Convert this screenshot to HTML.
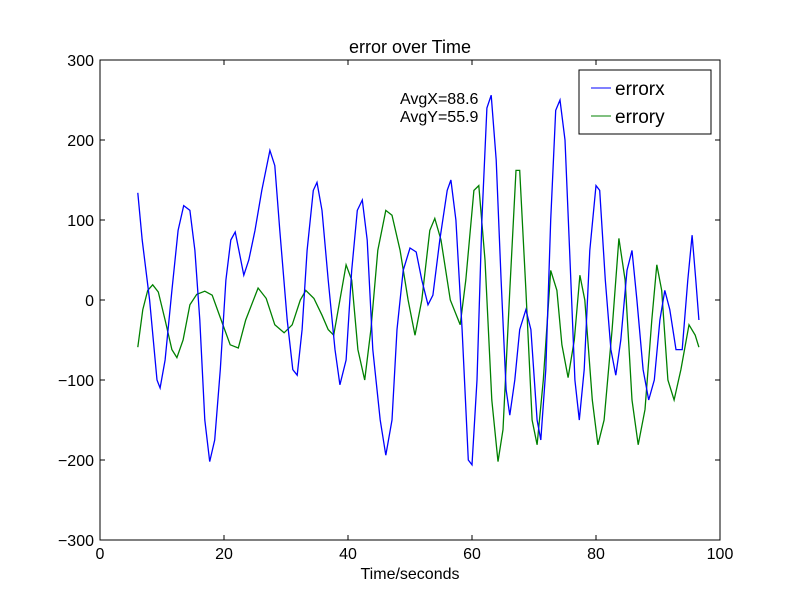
<!DOCTYPE html>
<html><head><meta charset="utf-8"><style>
body{margin:0;background:#fff;}
svg text{font-family:"Liberation Sans","DejaVu Sans",sans-serif;}
</style></head><body>
<svg id="chart" width="800" height="600" viewBox="0 0 800 600" xmlns="http://www.w3.org/2000/svg">
<rect x="0" y="0" width="800" height="600" fill="#fff"/>
<text x="410" y="53" font-size="18" text-anchor="middle">error over Time</text>
<g id="ticks"></g>
<g id="series"></g>
<rect x="100" y="60" width="620" height="480" fill="none" stroke="#000" stroke-width="1"/>
<text x="410" y="579" font-size="16" text-anchor="middle">Time/seconds</text>
<text x="400" y="104" font-size="16">AvgX=88.6</text>
<text x="400" y="122" font-size="16">AvgY=55.9</text>
<g>
<rect x="579" y="70" width="132" height="64" fill="#fff" stroke="#000"/>
<line x1="591" y1="88" x2="611" y2="88" stroke="#0000ff"/>
<text x="615" y="95" font-size="19">errorx</text>
<line x1="591" y1="116" x2="611" y2="116" stroke="#008000"/>
<text x="615" y="123" font-size="19">errory</text>
</g>
</svg>
<script>
const xTicks=[0,20,40,60,80,100];
const yTicks=[-300,-200,-100,0,100,200,300];
const xTimes=[6.1,6.8,8,9.2,9.7,10.5,11.6,12.6,13.5,14.5,15.3,16.1,16.9,17.7,18.5,19.4,20.3,21.1,21.8,22.4,23.2,24,25,26.1,27.4,28.2,29,30.2,31.1,31.8,32.6,33.4,34.4,35,35.8,36.8,37.9,38.7,39.7,40.6,41.5,42.3,43.1,44,45.2,46.1,47.1,47.9,48.9,50,51,51.9,52.9,53.7,54.8,56,56.6,57.4,58.4,59.4,60,60.8,61.6,62.4,63.1,63.9,64.7,65.5,66.1,66.9,67.7,68.7,69.5,70.5,71.1,71.9,72.7,73.5,74.2,75,75.8,76.6,77.3,78.1,79,80,80.6,81.5,82.4,83.2,84,85,85.8,86.6,87.6,88.5,89.4,90.3,91.1,91.9,92.9,93.9,94.8,95.5,96.1,96.6];
const errorX=[134,75,0,-100,-110,-75,12,87,118,112,62,-25,-150,-202,-175,-87,25,75,85,62,31,50,87,137,187,168,87,-25,-87,-94,-37,62,137,147,112,25,-62,-106,-75,37,112,125,75,-62,-150,-194,-150,-37,37,65,60,25,-6,6,75,137,150,100,-37,-200,-206,-100,100,240,256,175,25,-112,-144,-100,-37,-12,-37,-150,-175,-87,100,237,250,200,50,-100,-150,-87,62,143,137,25,-62,-94,-50,37,62,0,-87,-125,-100,-25,12,-12,-62,-62,25,81,25,-25];
const yTimes=[6.1,6.9,7.7,8.5,9.4,10.5,11.6,12.4,13.4,14.5,15.6,16.9,18.1,19.4,21,22.3,23.5,25.5,26.8,28.2,29.7,31,32.3,33.2,34.5,35.8,36.8,37.7,38.7,39.7,40.6,41.6,42.7,43.7,44.8,46.1,47.1,48.4,49.7,50.8,51.9,53.2,54,55,56.5,58.1,59,60.3,61.1,62.1,63.2,64.2,65,66.1,67.1,67.7,68.7,69.7,70.5,71.5,72.7,73.7,74.5,75.5,76.5,77.4,78.2,79.4,80.3,81.3,82.6,83.7,84.7,85.8,86.8,87.9,89,89.8,90.6,91.6,92.6,93.7,95,96,96.6];
const errorY=[-59,-12,12,19,10,-25,-62,-72,-50,-6,7,11,6,-22,-56,-60,-25,15,2,-31,-41,-31,0,12,2,-19,-37,-44,0,44,25,-62,-100,-37,62,112,106,62,0,-44,0,87,102,75,0,-31,25,137,143,50,-125,-202,-162,12,162,162,12,-150,-181,-100,37,12,-56,-97,-50,31,0,-125,-181,-150,-37,77,25,-125,-181,-137,-25,44,12,-100,-125,-87,-31,-44,-59];

const NS="http://www.w3.org/2000/svg";
const X0=100,X1=720,Y0=540,Y1=60;
function sx(v){return X0+(v-0)/(100-0)*(X1-X0);}
function sy(v){return Y0-(v+300)/600*(Y0-Y1);}
const tg=document.getElementById('ticks');
function mk(tag,attrs,parent){const e=document.createElementNS(NS,tag);for(const k in attrs)e.setAttribute(k,attrs[k]);parent.appendChild(e);return e;}
xTicks.forEach(t=>{
  const x=sx(t);
  const a=mk('line',{x1:x,y1:Y0,x2:x,y2:Y0-5,stroke:'#000'},tg);
  
  
  const b=mk('line',{x1:x,y1:Y1,x2:x,y2:Y1+5,stroke:'#000'},tg);
  
  
  const l=mk('text',{x:x,y:Y0+19,'font-size':16,'text-anchor':'middle'},tg);
  l.textContent=String(t);
  
  
});
yTicks.forEach(t=>{
  const y=sy(t);
  const a=mk('line',{x1:X0,y1:y,x2:X0+5,y2:y,stroke:'#000'},tg);
  
  
  const b=mk('line',{x1:X1,y1:y,x2:X1-5,y2:y,stroke:'#000'},tg);
  
  
  const l=mk('text',{x:X0-6,y:y+6,'font-size':16,'text-anchor':'end'},tg);
  l.textContent=(t<0?'\u2212'+(-t):String(t));
  
  
});
const sg=document.getElementById('series');
function line(ts,vs,color){return ts.map((t,i)=>sx(t).toFixed(1)+','+sy(vs[i]).toFixed(1)).join(' ');}
const py=mk('polyline',{points:line(yTimes,errorY),fill:'none',stroke:'#008000','stroke-width':1.3},sg);


const px=mk('polyline',{points:line(xTimes,errorX),fill:'none',stroke:'#0000ff','stroke-width':1.3},sg);


</script>
</body></html>
